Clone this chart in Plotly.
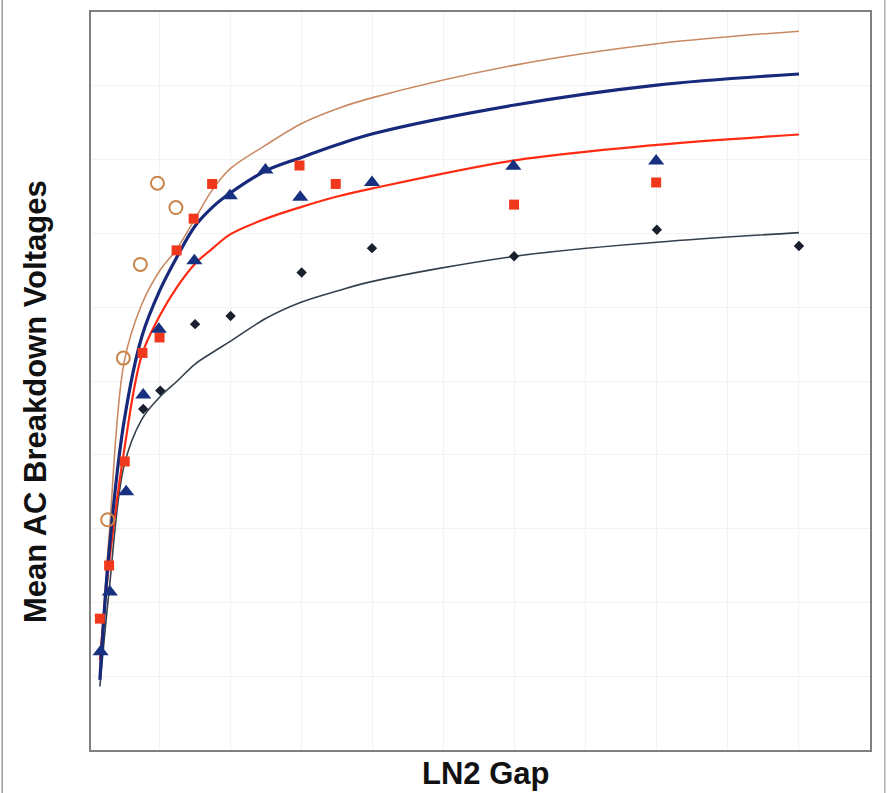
import plotly.graph_objects as go

# ---- data ----
fit_x = [0.16, 0.29, 0.5, 0.75, 1.0, 1.25, 1.5, 1.75, 2.0, 2.5, 3.0, 3.5, 4.0, 6, 8, 10]
fit_orange = [1.15, 2.90, 5.25, 6.04, 6.49, 6.80, 7.20, 7.60, 7.88, 8.20, 8.49, 8.69, 8.84, 9.28, 9.57, 9.74]
fit_blue = [0.95, 2.70, 4.45, 5.60, 6.22, 6.69, 7.10, 7.36, 7.55, 7.85, 8.03, 8.20, 8.35, 8.74, 9.01, 9.16]
fit_red = [1.22, 2.53, 4.05, 5.35, 5.88, 6.28, 6.59, 6.80, 6.99, 7.20, 7.36, 7.50, 7.61, 7.99, 8.20, 8.34]
fit_black = [0.86, 2.16, 3.85, 4.48, 4.78, 5.00, 5.23, 5.39, 5.54, 5.85, 6.07, 6.22, 6.35, 6.69, 6.88, 7.01]

circle_x = [0.27, 0.49, 0.73, 0.97, 1.23]
circle_y = [3.12, 5.31, 6.58, 7.68, 7.35]

square_x = [0.16, 0.29, 0.51, 0.76, 1.0, 1.24, 1.48, 1.74, 2.97, 3.48, 5.99, 7.99]
square_y = [1.78, 2.50, 3.91, 5.38, 5.59, 6.77, 7.20, 7.67, 7.92, 7.67, 7.39, 7.69]

tri_x = [0.17, 0.30, 0.53, 0.77, 0.99, 1.49, 1.99, 2.49, 2.98, 3.99, 5.98, 7.99]
tri_y = [1.33, 2.14, 3.50, 4.81, 5.70, 6.63, 7.51, 7.86, 7.49, 7.69, 7.91, 7.98]

dia_x = [0.77, 1.01, 1.50, 2.0, 3.0, 3.99, 5.99, 8.0, 10.0]
dia_y = [4.62, 4.87, 5.77, 5.88, 6.47, 6.80, 6.69, 7.05, 6.83]

x_title = "LN2 Gap"
y_title = "Mean AC Breakdown Voltages"

fig = go.Figure()

line_shape = dict(shape="spline", smoothing=1.0)
fig.add_trace(go.Scatter(x=fit_x, y=fit_orange, mode="lines",
                         line=dict(color="#c98a63", width=1.6, **line_shape), showlegend=False))
fig.add_trace(go.Scatter(x=fit_x, y=fit_black, mode="lines",
                         line=dict(color="#35404c", width=1.6, **line_shape), showlegend=False))
fig.add_trace(go.Scatter(x=fit_x, y=fit_red, mode="lines",
                         line=dict(color="#ff2a12", width=2.2, **line_shape), showlegend=False))
fig.add_trace(go.Scatter(x=fit_x, y=fit_blue, mode="lines",
                         line=dict(color="#17297a", width=3.2, **line_shape), showlegend=False))

fig.add_trace(go.Scatter(x=circle_x, y=circle_y, mode="markers",
                         marker=dict(symbol="circle-open", size=13, color="#c8844a",
                                     line=dict(width=2, color="#c8844a")),
                         showlegend=False))
fig.add_trace(go.Scatter(x=dia_x, y=dia_y, mode="markers",
                         marker=dict(symbol="diamond", size=8, color="#1a1f2e"),
                         showlegend=False))
fig.add_trace(go.Scatter(x=square_x, y=square_y, mode="markers",
                         marker=dict(symbol="square", size=10, color="#f0381c"),
                         showlegend=False))
fig.add_trace(go.Scatter(x=tri_x, y=tri_y, mode="markers",
                         marker=dict(symbol="triangle-up", size=14, color="#17307f"),
                         showlegend=False))

axis_common = dict(showticklabels=False, ticks="", zeroline=False,
                   showgrid=True, gridcolor="#f2f2f2", gridwidth=1,
                   showline=True, linecolor="#808080", linewidth=1.6, mirror=True)

fig.update_layout(
    width=888, height=793,
    margin=dict(l=91, r=18, t=10, b=43),
    paper_bgcolor="white", plot_bgcolor="white",
    xaxis=dict(range=[0.035, 11.0], dtick=1, tick0=0, **axis_common),
    yaxis=dict(range=[0, 10], dtick=1, tick0=0, **axis_common),
    font=dict(family="Liberation Sans, Arial, sans-serif", color="#111111"),
    annotations=[
        dict(text=f"<b>{x_title}</b>", xref="paper", yref="paper",
             x=0.507, y=-0.006, xanchor="center", yanchor="top",
             showarrow=False, font=dict(size=31, color="#111111")),
        dict(text=f"<b>{y_title}</b>", xref="paper", yref="paper",
             x=-0.072, y=0.4727, xanchor="center", yanchor="middle", textangle=-90,
             showarrow=False, font=dict(size=31, color="#111111")),
    ],
    shapes=[
        dict(type="line", xref="paper", yref="paper", x0=-0.114, x1=-0.114, y0=-0.06, y1=1.02,
             line=dict(color="#9a9a9a", width=1.5)),
        dict(type="line", xref="paper", yref="paper", x0=1.019, x1=1.019, y0=-0.06, y1=1.02,
             line=dict(color="#b0b0b0", width=1.5)),
    ],
)

fig.write_html("out.html", config={"displayModeBar": False},
               post_script="document.body.style.margin='0';document.body.style.overflow='hidden';")
